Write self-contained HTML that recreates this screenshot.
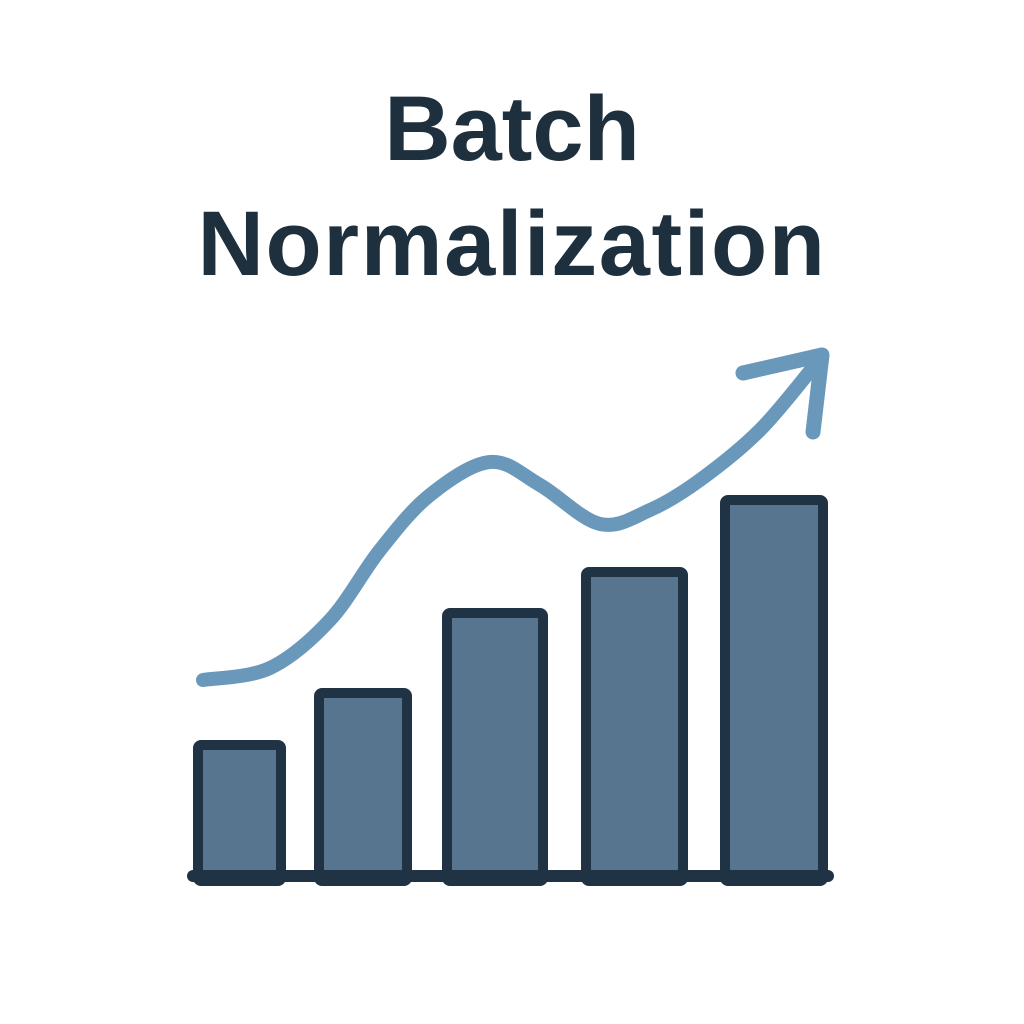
<!DOCTYPE html>
<html>
<head>
<meta charset="utf-8">
<style>
  html,body{margin:0;padding:0;background:#fff;}
  body{width:1024px;height:1024px;overflow:hidden;position:relative;}
  .title{position:absolute;left:0;width:1024px;text-align:center;font-family:"Liberation Sans",sans-serif;font-weight:bold;color:#1e2f3d;font-size:92px;line-height:1;}
  svg{position:absolute;left:0;top:0;}
</style>
</head>
<body>
<div class="title" style="top:83px;">Batch</div>
<div class="title" style="top:198px;letter-spacing:1.6px;">Normalization</div>
<svg id="chart" width="1024" height="1024"></svg>
<script>
const categories = ["b1","b2","b3","b4","b5"];
const barValues = [136, 188, 268, 309, 381];
const curveX = [203, 270, 330, 380, 430, 490, 540, 600, 650, 700, 760, 815];
const curveY = [200, 212, 260, 330, 385, 418, 395, 356, 370, 400, 450, 515];

const svg = document.getElementById('chart');
const NS = 'http://www.w3.org/2000/svg';
const baseY = 876;
const left = 193, right = 828;
const yScale = v => baseY - v;
const xLeft = [193, 314, 442, 581, 720];
const widths = [93, 98, 106, 107, 108];
function xBand(i){ return xLeft[i]; }

categories.forEach((c,i)=>{
  const r = document.createElementNS(NS,'rect');
  
  
  r.setAttribute('x', xBand(i)+5);
  r.setAttribute('y', yScale(barValues[i])+5);
  r.setAttribute('width', widths[i]-10);
  r.setAttribute('height', barValues[i]);
  r.setAttribute('rx', 3);
  r.setAttribute('fill', '#587590');
  r.setAttribute('stroke', '#1f3345');
  r.setAttribute('stroke-width', 10);
  svg.appendChild(r);
});

const base = document.createElementNS(NS,'line');


base.setAttribute('x1', left); base.setAttribute('x2', right);
base.setAttribute('y1', baseY); base.setAttribute('y2', baseY);
base.setAttribute('stroke', '#1f3345'); base.setAttribute('stroke-width', 12);
base.setAttribute('stroke-linecap', 'round');
svg.appendChild(base);

const cy = v => 880 - v;
let pts = curveX.map((x,i)=>[x, cy(curveY[i])]);
let d = 'M'+pts[0][0]+','+pts[0][1];
for(let i=0;i<pts.length-1;i++){
  const p0 = pts[i-1]||pts[i], p1=pts[i], p2=pts[i+1], p3=pts[i+2]||p2;
  const c1x = p1[0]+(p2[0]-p0[0])/6, c1y = p1[1]+(p2[1]-p0[1])/6;
  const c2x = p2[0]-(p3[0]-p1[0])/6, c2y = p2[1]-(p3[1]-p1[1])/6;
  d += ' C'+c1x+','+c1y+' '+c2x+','+c2y+' '+p2[0]+','+p2[1];
}
const path = document.createElementNS(NS,'path');


path.setAttribute('d', d);
path.setAttribute('fill', 'none');
path.setAttribute('stroke', '#6a98bb');
path.setAttribute('stroke-width', 14);
path.setAttribute('stroke-linecap', 'round');
svg.appendChild(path);

const tip = pts[pts.length-1];
const head = document.createElementNS(NS,'path');


head.setAttribute('d', 'M'+(tip[0]-72)+','+(tip[1]+8)+' L'+(tip[0]+7)+','+(tip[1]-10)+' L'+(tip[0]-2)+','+(tip[1]+67));
head.setAttribute('fill', 'none');
head.setAttribute('stroke', '#6a98bb');
head.setAttribute('stroke-width', 15);
head.setAttribute('stroke-linecap', 'round');
head.setAttribute('stroke-linejoin', 'round');
svg.appendChild(head);
</script>
</body>
</html>
